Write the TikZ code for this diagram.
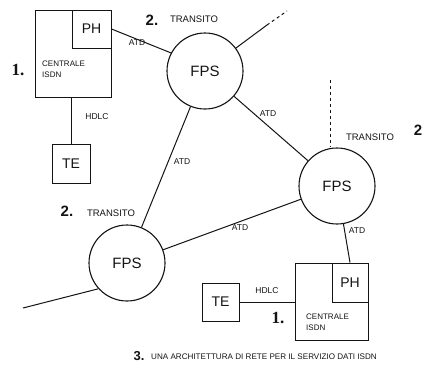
\documentclass[tikz,border=0pt]{standalone}
\usepackage{fontspec}
\setmainfont{Liberation Sans}
\newfontfamily\numfont{Liberation Serif}
\usetikzlibrary{positioning}
\definecolor{ink}{HTML}{141414}
\definecolor{paper}{HTML}{FFFFFF}
\tikzset{
  nodebase/.style={text=ink, inner sep=0pt},
  fps/.style={nodebase, circle, draw=ink, line width=1.1pt, minimum size=76pt,
    font=\fontsize{15}{15}\selectfont},
  office/.style={draw=ink, line width=1pt, inner sep=0pt},
  ph/.style={nodebase, draw=ink, line width=1pt, font=\fontsize{14}{14}\selectfont},
  term/.style={nodebase, draw=ink, line width=1pt, font=\fontsize{14}{14}\selectfont},
  link/.style={draw=ink, line width=1pt},
  proto/.style={nodebase, font=\fontsize{8.5}{8.5}\selectfont},
  officetext/.style={nodebase, align=left, font=\fontsize{8}{11}\selectfont},
  transit/.style={nodebase, font=\fontsize{9.5}{9.5}\selectfont},
  marker/.style={nodebase, font=\fontsize{15}{15}\selectfont\bfseries},
  onemark/.style={nodebase, font=\numfont\fontsize{17}{17}\selectfont\bfseries},
  caption/.style={nodebase, font=\fontsize{8.1}{8.1}\selectfont}
}

\begin{document}
\begin{tikzpicture}[x=1pt,y=-1pt]
\useasboundingbox[fill=paper] (0,0) rectangle (429,365);

% Transit exchanges
\node[fps] (fpsA) at (205,71) {FPS};
\node[fps] (fpsB) at (127,263) {FPS};
\node[fps] (fpsC) at (337,186) {FPS};

% Central office, top left
\node[office, minimum width=76pt, minimum height=87pt] (ceA) at (73,53.5) {};
\node[ph, minimum width=39pt, minimum height=38pt, anchor=north east] (phA)
  at (ceA.north east) {PH};
\node[officetext, anchor=west] (ceAtext) at (42,69) {CENTRALE\\ISDN};
\node[onemark] (oneA) at (18,70) {1.};
\node[term, minimum width=38pt, minimum height=39pt] (teA) at (71,163.5) {TE};

% Central office, bottom right
\node[office, minimum width=73pt, minimum height=77pt] (ceB) at (331.5,301.5) {};
\node[ph, minimum width=36pt, minimum height=39pt, anchor=north east] (phB)
  at (ceB.north east) {PH};
\node[officetext, anchor=west] (ceBtext) at (306,322) {CENTRALE\\ISDN};
\node[onemark] (oneB) at (278,318) {1.};
\node[term, minimum width=37pt, minimum height=38pt] (teB) at (220.5,302) {TE};

% Links
\draw[link] (phA.east) -- (fpsA.152);
\draw[link] (fpsA) -- (fpsB);
\draw[link] (fpsA) -- (fpsC);
\draw[link] (fpsB) -- (fpsC);
\draw[link] (fpsC) -- (phB.north);
\draw[link] (teA.north) -- (teA.north |- ceA.south);
\draw[link] (teB.east) -- (teB.east -| ceB.west);

% Links leaving the picture
\coordinate (midA) at (267,25);
\coordinate (outA) at (287,11);
\draw[link] (fpsA) -- (midA);
\draw[link, dashed] (midA) -- (outA);
\coordinate (upC) at (330,80);
\draw[link, dashed] (upC) -- (upC |- fpsC.north);
\coordinate (outB) at (23,308);
\draw[link] (fpsB.222) -- (outB);

% Protocol labels
\node[proto] (atdA) at (137,43) {ATD};
\node[proto] (atdAB) at (182,162) {ATD};
\node[proto] (atdAC) at (268,114) {ATD};
\node[proto] (atdBC) at (240,228) {ATD};
\node[proto] (atdC) at (357,231) {ATD};
\node[proto] (hdlcA) at (97,117) {HDLC};
\node[proto] (hdlcB) at (267,291) {HDLC};

% Transit labels
\node[marker] (twoA) at (152,20) {2.};
\node[transit] (trA) at (194,19) {TRANSITO};
\node[marker] (twoB) at (67,211) {2.};
\node[transit] (trB) at (111,213) {TRANSITO};
\node[transit] (trC) at (370,137) {TRANSITO};
\node[marker] (twoC) at (418,130) {2};

% Caption
\node[marker, font=\fontsize{13}{13}\selectfont\bfseries] (threeCap) at (139,356) {3.};
\node[caption, anchor=west] (caption) at (151,357)
  {UNA ARCHITETTURA DI RETE PER IL SERVIZIO DATI ISDN};

\end{tikzpicture}
\end{document}
